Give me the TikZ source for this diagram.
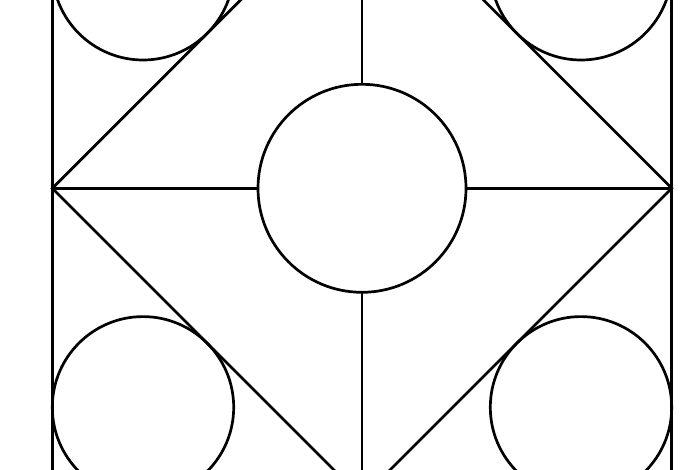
\documentclass[tikz,border=0pt]{standalone}
\begin{document}
\begin{tikzpicture}[x=1pt,y=-1pt,
  figline/.style={line width=2.7pt,black,line join=miter}]
\useasboundingbox (0,0) rectangle (700,470);
\clip (0,0) rectangle (700,470);
\fill[white] (0,0) rectangle (700,470);
\def\L{52.3}\def\R{671.7}\def\C{362}\def\M{188.3}\def\H{309.7}
\def\T{-121.4}\def\B{498}
\def\cr{104}\def\kr{90.7}
\coordinate (lv) at (\L,\M);
\coordinate (rv) at (\R,\M);
\coordinate (tv) at (\C,\T);
\coordinate (bv) at (\C,\B);
\coordinate (cc) at (\C,\M);
% outer square
\draw[figline] (\L,\T) rectangle (\R,\B);
% diamond
\draw[figline] (lv) -- (tv) -- (rv) -- (bv) -- cycle;
% central circle
\draw[figline] (cc) circle[radius=\cr];
% cross lines
\draw[figline] (tv) -- ([yshift=\cr]cc);
\draw[figline] ([yshift=-\cr]cc) -- (bv);
\draw[figline] (lv) -- ([xshift=-\cr]cc);
\draw[figline] ([xshift=\cr]cc) -- (rv);
% corner circles
\draw[figline] (\L+\kr,\T+\kr) circle[radius=\kr];
\draw[figline] (\R-\kr,\T+\kr) circle[radius=\kr];
\draw[figline] (\L+\kr,\B-\kr) circle[radius=\kr];
\draw[figline] (\R-\kr,\B-\kr) circle[radius=\kr];
\end{tikzpicture}
\end{document}
